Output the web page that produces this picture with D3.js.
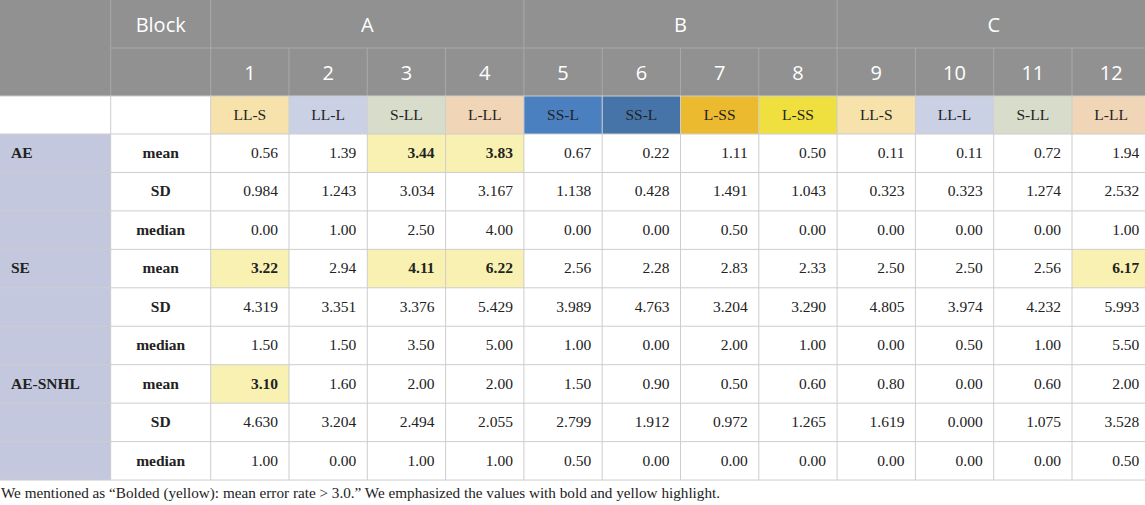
<!DOCTYPE html>
<html>
<head>
<meta charset="utf-8">
<script src="https://cdn.jsdelivr.net/npm/d3@7"></script>
<style>
  body { margin: 0; background: #fff; }
  svg { display: block; }
</style>
</head>
<body>
<div id="table"></div>
<script>
// table contents
var groups = ["A", "B", "C"]
var blockNumbers = ["1", "2", "3", "4", "5", "6", "7", "8", "9", "10", "11", "12"]
var abbreviations = ["LL-S", "LL-L", "S-LL", "L-LL", "SS-L", "SS-L", "L-SS", "L-SS", "LL-S", "LL-L", "S-LL", "L-LL"]
var measures = ["AE", "SE", "AE-SNHL"]
var stats = ["mean", "SD", "median"]

var aeMean = [0.56, 1.39, 3.44, 3.83, 0.67, 0.22, 1.11, 0.50, 0.11, 0.11, 0.72, 1.94]
var aeSD = [0.984, 1.243, 3.034, 3.167, 1.138, 0.428, 1.491, 1.043, 0.323, 0.323, 1.274, 2.532]
var aeMedian = [0.00, 1.00, 2.50, 4.00, 0.00, 0.00, 0.50, 0.00, 0.00, 0.00, 0.00, 1.00]
var seMean = [3.22, 2.94, 4.11, 6.22, 2.56, 2.28, 2.83, 2.33, 2.50, 2.50, 2.56, 6.17]
var seSD = [4.319, 3.351, 3.376, 5.429, 3.989, 4.763, 3.204, 3.290, 4.805, 3.974, 4.232, 5.993]
var seMedian = [1.50, 1.50, 3.50, 5.00, 1.00, 0.00, 2.00, 1.00, 0.00, 0.50, 1.00, 5.50]
var snhlMean = [3.10, 1.60, 2.00, 2.00, 1.50, 0.90, 0.50, 0.60, 0.80, 0.00, 0.60, 2.00]
var snhlSD = [4.630, 3.204, 2.494, 2.055, 2.799, 1.912, 0.972, 1.265, 1.619, 0.000, 1.075, 3.528]
var snhlMedian = [1.00, 0.00, 1.00, 1.00, 0.50, 0.00, 0.00, 0.00, 0.00, 0.00, 0.00, 0.50]

var footnote = "We mentioned as \u201CBolded (yellow): mean error rate > 3.0.\u201D We emphasized the values with bold and yellow highlight."

// colours for the abbreviation row, by column
var abbrFill = ["#f6e2aa", "#cbd1e4", "#d8dccb", "#f0d6b6", "#4a80bf", "#4674a9", "#ecba2f", "#efe03f", "#f6e2aa", "#cbd1e4", "#d8dccb", "#f0d6b6"]

var seriesByMeasure = {
  "AE": [aeMean, aeSD, aeMedian],
  "SE": [seMean, seSD, seMedian],
  "AE-SNHL": [snhlMean, snhlSD, snhlMedian]
}
var rows = []
measures.forEach(function (m) {
  stats.forEach(function (s, si) {
    rows.push({ measure: si === 0 ? m : "", stat: s, values: seriesByMeasure[m][si] })
  })
})

var width = 1145, height = 505
var col0 = 110.7, col1 = 210.7, colW = 78.3
var hdr1 = 48, hdr2 = 96, abbrBottom = 134, rowH = 38.45

var serif = "'Liberation Serif', 'Times New Roman', serif"
var sans = "'Open Sans', Lato, sans-serif"

var x = d3.scaleBand().domain(blockNumbers).range([col1, col1 + colW * 12])
var y = d3.scaleBand().domain(d3.range(rows.length)).range([abbrBottom, abbrBottom + rowH * rows.length])

var isHigh = function (r, v) { return r.stat === "mean" && v > 3.0 }

var svg = d3.select("#table").append("svg")
    .attr("width", width)
    .attr("height", height)

// header background
svg.append("rect")
    .attr("x", 0).attr("y", 0)
    .attr("width", width).attr("height", hdr2)
    .attr("fill", "#919191")

var hdrLine = "#a9a9a9"
svg.append("line")
    .attr("x1", col0).attr("x2", width).attr("y1", hdr1).attr("y2", hdr1)
    .attr("stroke", hdrLine)
svg.selectAll(".hdr-v")
  .data([col0, col1])
  .enter().append("line")
    .attr("x1", function (d) { return d }).attr("x2", function (d) { return d })
    .attr("y1", 0).attr("y2", hdr2)
    .attr("stroke", hdrLine)

// group dividers in row 1, column dividers in row 2
svg.selectAll(".grp-line")
  .data([4, 8])
  .enter().append("line")
    .attr("x1", function (d) { return x(blockNumbers[d]) })
    .attr("x2", function (d) { return x(blockNumbers[d]) })
    .attr("y1", 0).attr("y2", hdr1)
    .attr("stroke", hdrLine)
svg.selectAll(".num-line")
  .data(blockNumbers.slice(1))
  .enter().append("line")
    .attr("x1", function (d) { return x(d) })
    .attr("x2", function (d) { return x(d) })
    .attr("y1", hdr1).attr("y2", hdr2)
    .attr("stroke", hdrLine)

svg.append("text")
    .attr("x", (col0 + col1) / 2).attr("y", 32)
    .attr("text-anchor", "middle")
    .attr("font-family", sans).attr("font-size", 20)
    .attr("fill", "#fff")
    .text("Block")

svg.selectAll(".grp")
  .data(groups)
  .enter().append("text")
    .attr("x", function (d, i) { return x(blockNumbers[i * 4]) + colW * 2 })
    .attr("y", 32)
    .attr("text-anchor", "middle")
    .attr("font-family", sans).attr("font-size", 20)
    .attr("fill", "#fff")
    .text(function (d) { return d })

svg.selectAll(".num")
  .data(blockNumbers)
  .enter().append("text")
    .attr("x", function (d) { return x(d) + x.bandwidth() / 2 })
    .attr("y", 80)
    .attr("text-anchor", "middle")
    .attr("font-family", sans).attr("font-size", 20)
    .attr("fill", "#fff")
    .text(function (d) { return d })

// abbreviation row
svg.selectAll(".abbr-cell")
  .data(abbreviations)
  .enter().append("rect")
    .attr("x", function (d, i) { return x(blockNumbers[i]) })
    .attr("y", hdr2)
    .attr("width", x.bandwidth())
    .attr("height", abbrBottom - hdr2)
    .attr("fill", function (d, i) { return abbrFill[i] })

svg.selectAll(".abbr")
  .data(abbreviations)
  .enter().append("text")
    .attr("x", function (d, i) { return x(blockNumbers[i]) + x.bandwidth() / 2 })
    .attr("y", hdr2 + 24)
    .attr("text-anchor", "middle")
    .attr("font-family", serif).attr("font-size", 15.5)
    .attr("fill", "#222")
    .text(function (d) { return d })

// first column shading
svg.append("rect")
    .attr("x", 0).attr("y", abbrBottom)
    .attr("width", col0).attr("height", rowH * rows.length)
    .attr("fill", "#c4c8de")

var fmt2 = d3.format(".2f"), fmt3 = d3.format(".3f")
rows.forEach(function (r, ri) {
  var g = svg.append("g")
  var cells = r.values.map(function (v, i) { return { v: v, col: blockNumbers[i] } })

  // yellow for mean > 3.0
  g.selectAll("rect")
    .data(cells.filter(function (c) { return isHigh(r, c.v) }))
    .enter().append("rect")
      .attr("x", function (c) { return x(c.col) }).attr("y", y(ri))
      .attr("width", x.bandwidth()).attr("height", y.bandwidth())
      .attr("fill", "#f8f1b1")

  g.selectAll("text")
    .data(cells)
    .enter().append("text")
      .attr("x", function (c) { return x(c.col) + x.bandwidth() - 11 })
      .attr("y", y(ri) + 24)
      .attr("text-anchor", "end")
      .attr("font-family", serif).attr("font-size", 15.5)
      .attr("font-weight", function (c) { return isHigh(r, c.v) ? "bold" : "normal" })
      .attr("fill", "#222")
      .text(function (c) { return r.stat === "SD" ? fmt3(c.v) : fmt2(c.v) })

  svg.append("text")
      .attr("x", (col0 + col1) / 2).attr("y", y(ri) + 24)
      .attr("text-anchor", "middle")
      .attr("font-family", serif).attr("font-size", 15.5)
      .attr("font-weight", "bold").attr("fill", "#222")
      .text(r.stat)
  if (r.measure) {
    svg.append("text")
        .attr("x", 11).attr("y", y(ri) + 24)
        .attr("font-family", serif).attr("font-size", 15.5)
        .attr("font-weight", "bold").attr("fill", "#222")
        .text(r.measure)
  }
})

// body grid
var gridCol = "#cdcdcd"
var hLines = [hdr2, abbrBottom].concat(d3.range(rows.length).map(function (i) { return y(i) + y.bandwidth() }))
svg.selectAll(".hgrid")
  .data(hLines)
  .enter().append("line")
    .attr("x1", 0).attr("x2", width)
    .attr("y1", function (d) { return d }).attr("y2", function (d) { return d })
    .attr("stroke", gridCol)
var vLines = [col0, col1].concat(blockNumbers.slice(1).map(function (d) { return x(d) }))
svg.selectAll(".vgrid")
  .data(vLines)
  .enter().append("line")
    .attr("x1", function (d) { return d }).attr("x2", function (d) { return d })
    .attr("y1", hdr2).attr("y2", abbrBottom + rowH * rows.length)
    .attr("stroke", gridCol)

svg.append("text")
    .attr("x", 1).attr("y", 498)
    .attr("font-family", serif).attr("font-size", 15.2)
    .attr("fill", "#222")
    .text(footnote)
</script>
</body>
</html>
